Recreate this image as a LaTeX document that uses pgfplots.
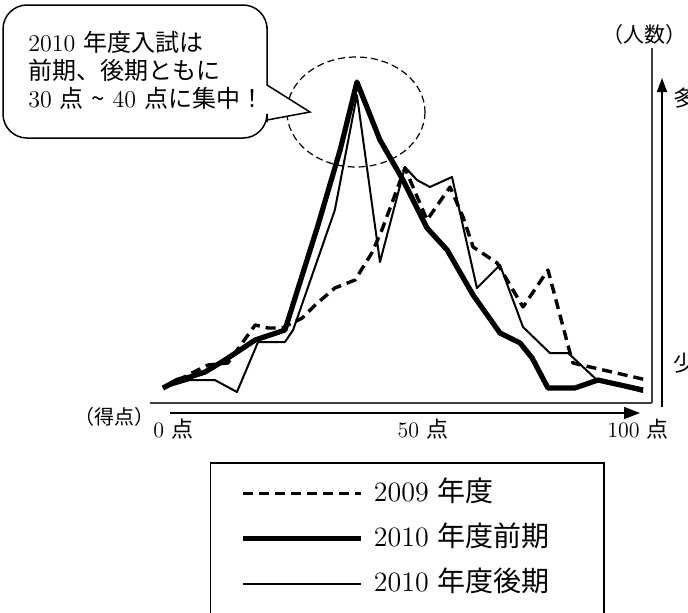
\documentclass[border=0pt]{standalone}
\usepackage{fontspec}
\usepackage{pgfplots}
\pgfplotsset{compat=1.18}
\usetikzlibrary{arrows.meta}
\newfontfamily\cjk{Noto Sans CJK JP}

% score (points) vs number of examinees
\pgfplotstableread{
x y
0 1.5
3.1 2.3
5.6 2.6
8.75 3.1
12.9 4.3
19.2 6.3
25.4 7.3
32.3 17.8
36.9 25.3
40.4 32.1
45.2 26.3
50.0 22.3
55.0 17.5
59.2 15.3
64.6 10.8
70.2 7.0
74.4 6.0
76.9 4.5
80.2 1.5
85.8 1.5
90.6 2.3
100 1.3
}\zenki

\pgfplotstableread{
x y
0 1.5
5.6 2.3
10.8 2.3
15.4 1.1
19.8 6.1
25.4 6.1
27.1 7.3
35.8 19.3
40.4 30.8
45.2 14.1
50.4 23.6
52.9 22.3
55.6 21.6
60.2 22.6
65.4 11.5
70.2 13.8
75.0 7.6
80.6 5.0
84.4 5.0
90.4 2.3
100 1.1
}\kouki

\pgfplotstableread{
x y
0 1.5
6.0 3.0
9.4 3.8
13.5 4.0
19.2 7.8
21.9 7.5
24.8 7.5
29.0 8.5
31.7 9.8
35.8 11.5
40.0 12.3
43.5 15.0
45.6 17.3
50.4 23.5
55.0 18.3
59.8 21.6
62.5 18.6
64.6 15.6
69.6 14.0
75.0 9.6
80.2 13.3
84.8 5.0
85.4 4.0
100.8 2.3
}\nendo

\begin{document}
\begin{tikzpicture}
\begin{axis}[
  at={(75pt,-201.5pt)}, anchor=south west,
  scale only axis, width=251pt, height=177.5pt,
  xmin=-2.71, xmax=101.875, ymin=0, ymax=35.5,
  axis x line*=bottom, axis y line*=right,
  axis line style={line width=0.75pt, black!75},
  xtick=\empty, ytick=\empty,
  clip=false,
  legend image code/.code={\draw[#1] (0pt,0pt) -- (59pt,0pt);},
  legend style={at={(0.1195,-0.1662)}, anchor=north west,
    draw=black, line width=0.75pt,
    inner xsep=15pt, inner ysep=8.75pt,
    row sep=9pt, column sep=5pt,
    font=\fontsize{14}{16}\selectfont,
    nodes={inner sep=0pt, text height=10.5pt, text depth=3pt},
    cells={anchor=west}},
]
\addplot[black, line width=1.7pt, dash pattern=on 5pt off 3pt, line join=round] table {\nendo};
\addlegendentry{\makebox[100pt][l]{2009 {\cjk 年度}}}
\addplot[black, line width=2.6pt, line join=round] table {\zenki};
\addlegendentry{\makebox[100pt][l]{2010 {\cjk 年度前期}}}
\addplot[black, line width=1pt, line join=round] table {\kouki};
\addlegendentry{\makebox[100pt][l]{2010 {\cjk 年度後期}}}
\end{axis}

\begin{scope}[x=0.5pt,y=-0.5pt]
  % axis arrows
  \draw[line width=0.75pt, -{Triangle[length=8pt,width=6pt]}] (170,413) -- (640,413);
  \draw[line width=0.75pt, -{Triangle[length=7pt,width=5pt]}] (662,407) -- (662,78);
  % axis texts
  \begin{scope}[every node/.style={inner sep=0pt, font=\fontsize{11}{13}\selectfont}]
    \node[anchor=base west] at (153,437) {0 {\cjk 点}};
    \node[anchor=base] at (423,437) {50 {\cjk 点}};
    \node[anchor=base] at (638,437) {100 {\cjk 点}};
    \node[anchor=base] at (114,424) {\fontsize{10}{12}\selectfont\cjk （得点）};
    \node[anchor=base] at (644,42) {\fontsize{10.5}{12}\selectfont\cjk （人数）};
    \node[anchor=base west] at (673,106) {\cjk 多};
    \node[anchor=base west] at (673,371) {\cjk 少};
  \end{scope}
  % circle round the peak
  \draw[line width=0.6pt, dash pattern=on 3.5pt off 2pt] (356,112) ellipse [x radius=69, y radius=55];
  % speech bubble
  \draw[line width=0.75pt, fill=white] (3,70) [rounded corners=12pt] -- (3,5) -- (267,5) -- (267,50)
    [sharp corners] -- (267,85) -- (310,112) -- (267,120) -- (267,122)
    [rounded corners=12pt] -- (267,138) -- (3,138) -- (3,70) -- cycle;
  \begin{scope}[every node/.style={inner sep=0pt, anchor=base west, font=\fontsize{12}{14}\selectfont}]
    \node at (28,51) {2010 {\cjk 年度入試は}};
    \node at (28,79) {\cjk 前期、後期ともに};
    \node at (28,107) {30 {\cjk 点} {\cjk\string~} 40 {\cjk 点に集中！}};
  \end{scope}
\end{scope}
\pgfresetboundingbox
\path[use as bounding box] (0pt,0pt) rectangle (344pt,-306pt);
\end{tikzpicture}
\end{document}
